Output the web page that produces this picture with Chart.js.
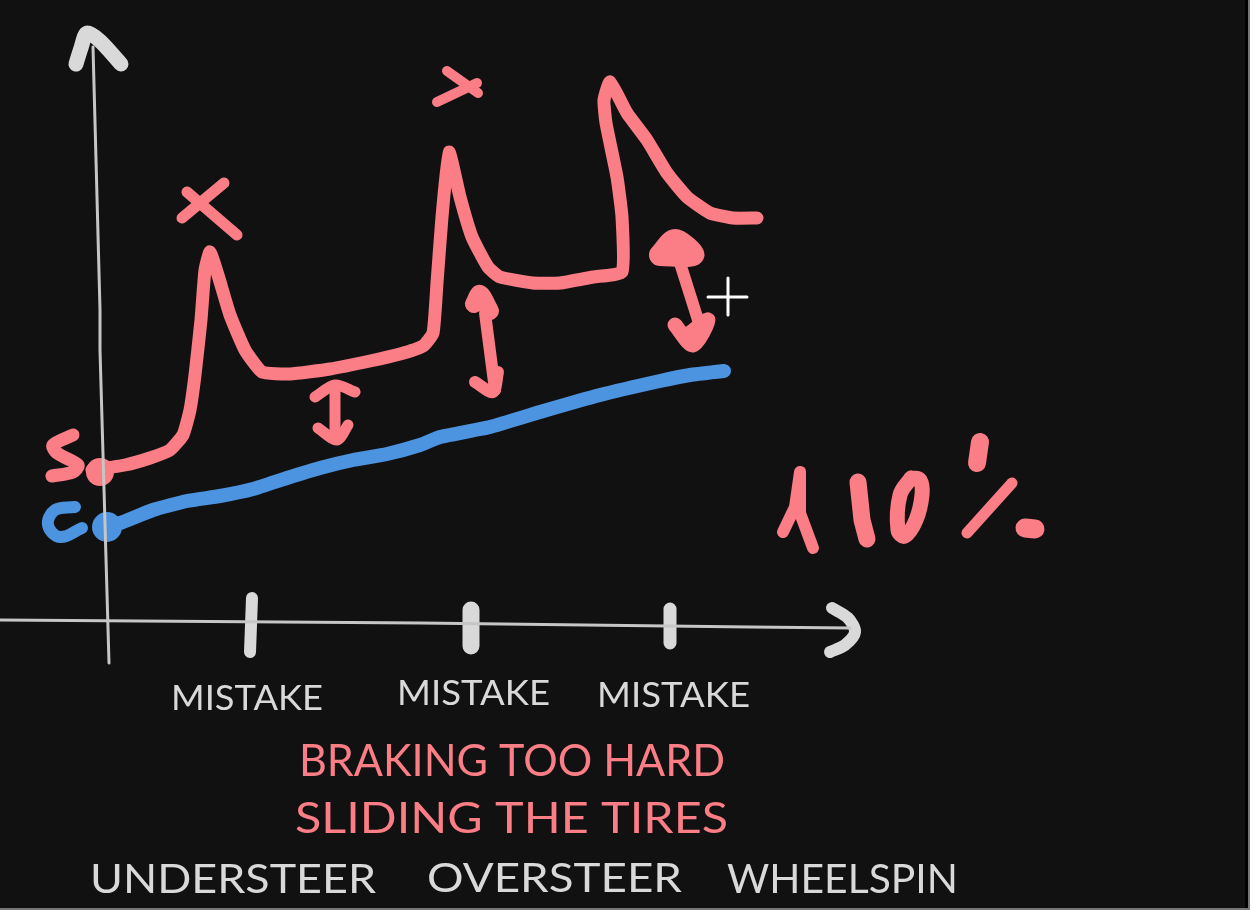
<!DOCTYPE html>
<html>
<head>
<meta charset="utf-8">
<title>Grip limit sketch</title>
<script src="https://cdn.jsdelivr.net/npm/chart.js@4"></script>
<style>
  html, body { margin: 0; padding: 0; background: #111112; overflow: hidden; }
  /* canvas is 20px bigger each side, the 20px layout padding lands off-page */
  #wrap { position: absolute; left: -20px; top: -20px; width: 1290px; height: 950px; }
  #edgeR { position: fixed; left: 1245px; top: 0; width: 3px; height: 910px; background: #000; }
  #edgeR2 { position: fixed; left: 1248px; top: 0; width: 2px; height: 910px; background: #777; }
  #edgeB { position: fixed; left: 0; top: 908px; width: 1250px; height: 2px; background: #777; }
</style>
</head>
<body>
<div id="wrap"><canvas id="sketch"></canvas></div>
<div id="edgeR"></div><div id="edgeR2"></div><div id="edgeB"></div>
<script>
// Values, in its own x / y units
const stressLine = [[92,470],[125,465],[150,458],[170,450],[183,435],[190,410],[195,375],[201,320],[205,270],[210,252],[218,275],[230,315],[245,350],[262,372],[290,374],[330,369],[370,361],[400,354],[423,346],[433,333],[437,283],[442,217],[449,152],[460,197],[472,237],[488,267],[500,277],[533,283],[560,283],[593,277],[622,272],[622,217],[617,177],[606,123],[604,100],[610,82],[627,113],[647,140],[667,173],[687,197],[710,213],[733,218],[757,218]];
const clutchLine = [[107,525],[120,523],[153,510],[187,501],[220,496],[253,489],[287,478],[320,468],[353,460],[387,454],[420,445],[440,437],[490,427],[540,412],[600,395],[660,381],[690,375],[724,371]];
const yAxisLine = [[93,47],[100,310],[100,350],[109,663]];
const yArrowHead = [[76,64],[81,48],[87,33],[100,41],[121,64]];
const xAxisLine = [[0,620],[420,623],[750,627],[850,628]];
const xArrowHead = [[832,608],[848,618],[855,632],[845,645],[830,652]];
const tick1 = [[252,598],[250,652]];
const tick2 = [[471,610],[471,646]];
const tick3 = [[670,609],[670,643]];
const cross1a = [[182,218],[224,183]];
const cross1b = [[187,192],[237,235]];
const cross2a = [[437,102],[477,83]];
const cross2b = [[447,71],[478,93]];
const gap1Stem = [[335,387],[335,437]];
const gap1Top = [[315,397],[335,385],[355,392]];
const gap1Bottom = [[318,428],[337,440],[348,425]];
const gap2Stem = [[485,313],[495,390]];
const gap2Top = [[474,304],[480,294],[490,311]];
const gap2Bottom = [[475,382],[493,392],[498,372]];
const gap3Stem = [[680,263],[698,320]];
const gap3Top = [[660,255],[675,240],[693,255],[660,255]];
const gap3Bottom = [[675,325],[693,345],[708,320],[690,333]];
const letterS = [[73,435],[53,445],[57,453],[78,465],[73,472],[52,476]];
const letterC = [[75,507],[55,510],[48,525],[60,537],[82,528]];
const stressDot = [[100,472]];
const clutchDot = [[107,527]];
const digit1 = [[783,532],[795,507],[800,472],[800,513],[813,548]];
const digit2 = [[858,482],[862,520],[867,539]];
const digit3 = [[911,478],[900,495],[898,530],[905,536],[916,520],[922,495],[920,480],[911,478]];
const percentTop = [[980,442],[977,463]];
const percentSlash = [[1012,483],[967,533]];
const percentDot = [[1025,528],[1035,529]];
const cursorH = [[708,297],[747,297]];
const cursorV = [[728,278],[728,315]];

const mistakeLabels = ['MISTAKE', 'MISTAKE', 'MISTAKE'];
const causeLabels = ['BRAKING TOO HARD', 'SLIDING THE TIRES'];
const effectLabels = ['UNDERSTEER', 'OVERSTEER', 'WHEELSPIN'];

const PINK = '#fb7d85';
const BLUE = '#4c93e0';
const GREY = '#d9d9d9';
const AXIS = '#c6c6c6';

function stroke(points, color, width, tension) {
  return {
    data: points.map(p => ({ x: p[0], y: p[1] })),
    showLine: true,
    borderColor: color,
    borderWidth: width,
    borderCapStyle: 'round',
    borderJoinStyle: 'round',
    pointRadius: 0,
    tension: tension || 0
  };
}

function dot(points, color, radius) {
  return {
    data: points.map(p => ({ x: p[0], y: p[1] })),
    showLine: false,
    backgroundColor: color,
    borderWidth: 0,
    pointRadius: radius
  };
}

const datasets = [
  stroke(yAxisLine, AXIS, 3),
  stroke(xAxisLine, AXIS, 3),
  stroke(yArrowHead, GREY, 15, 0.3),
  stroke(xArrowHead, GREY, 12, 0.3),
  stroke(tick1, GREY, 12),
  stroke(tick2, GREY, 17),
  stroke(tick3, GREY, 13),
  stroke(stressLine, PINK, 13, 0.15),
  stroke(clutchLine, BLUE, 14, 0.15),
  stroke(cross1a, PINK, 11),
  stroke(cross1b, PINK, 11),
  stroke(cross2a, PINK, 10),
  stroke(cross2b, PINK, 10),
  stroke(gap1Stem, PINK, 11),
  stroke(gap1Top, PINK, 11, 0.3),
  stroke(gap1Bottom, PINK, 11, 0.3),
  stroke(gap2Stem, PINK, 12),
  stroke(gap2Top, PINK, 18, 0.3),
  stroke(gap2Bottom, PINK, 12, 0.3),
  stroke(gap3Stem, PINK, 12),
  stroke(gap3Top, PINK, 22, 0.3),
  stroke(gap3Bottom, PINK, 15, 0.3),
  stroke(letterS, PINK, 13, 0.3),
  stroke(letterC, BLUE, 12, 0.4),
  dot(stressDot, PINK, 14),
  dot(clutchDot, BLUE, 15),
  stroke(digit1, PINK, 12),
  stroke(digit2, PINK, 17),
  stroke(digit3, PINK, 15, 0.4),
  stroke(percentTop, PINK, 18),
  stroke(percentSlash, PINK, 11),
  stroke(percentDot, PINK, 19),
  stroke(cursorH, '#ffffff', 3),
  stroke(cursorV, '#ffffff', 3)
];

// Handwritten captions: left edge, right edge, baseline, size
const captions = [
  { text: mistakeLabels[0], x0: 171, x1: 323, y: 710, size: 34, color: GREY },
  { text: mistakeLabels[1], x0: 397, x1: 550, y: 705, size: 34, color: GREY },
  { text: mistakeLabels[2], x0: 597, x1: 750, y: 707, size: 34, color: GREY },
  { text: causeLabels[0], x0: 299, x1: 725, y: 776, size: 45, color: PINK },
  { text: causeLabels[1], x0: 295, x1: 728, y: 833, size: 43, color: PINK },
  { text: effectLabels[0], x0: 90, x1: 376, y: 893, size: 41, color: GREY },
  { text: effectLabels[1], x0: 427, x1: 682, y: 892, size: 41, color: GREY },
  { text: effectLabels[2], x0: 727, x1: 958, y: 893, size: 41, color: GREY }
];

const captionPlugin = {
  id: 'captions',
  afterDatasetsDraw(chart) {
    const { ctx, scales } = chart;
    captions.forEach(c => {
      const left = scales.x.getPixelForValue(c.x0);
      const right = scales.x.getPixelForValue(c.x1);
      ctx.save();
      ctx.font = `400 ${c.size}px Lato, "Open Sans", sans-serif`;
      ctx.fillStyle = c.color;
      ctx.textBaseline = 'alphabetic';
      ctx.translate(left, scales.y.getPixelForValue(c.y));
      ctx.scale((right - left) / ctx.measureText(c.text).width, 1);
      ctx.fillText(c.text, 0, 0);
      ctx.restore();
    });
  }
};

new Chart(document.getElementById('sketch'), {
  type: 'scatter',
  data: { datasets },
  options: {
    responsive: true,
    maintainAspectRatio: false,
    animation: false,
    layout: { padding: 20 },
    plugins: { legend: { display: false }, tooltip: { enabled: false } },
    scales: {
      x: { type: 'linear', min: 0, max: 1250, display: false },
      y: { type: 'linear', min: 0, max: 910, reverse: true, display: false }
    }
  },
  plugins: [captionPlugin]
});
</script>
</body>
</html>
